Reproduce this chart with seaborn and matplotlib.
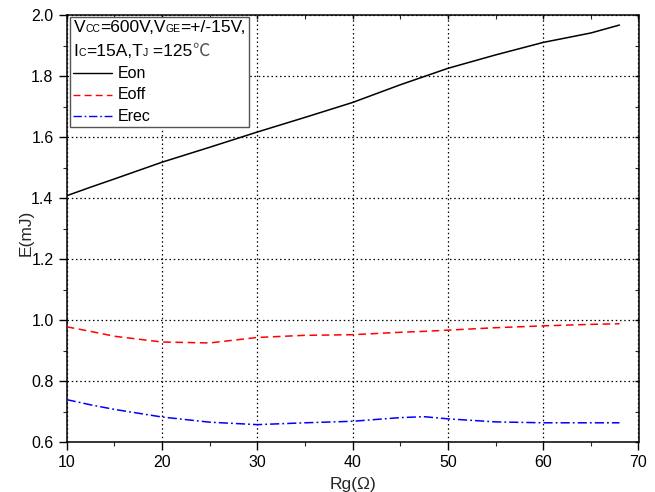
import matplotlib
matplotlib.use("Agg")
import matplotlib.pyplot as plt
from matplotlib.ticker import MultipleLocator
from matplotlib.offsetbox import TextArea, HPacker, VPacker, DrawingArea, AnchoredOffsetbox
from matplotlib.lines import Line2D
import seaborn as sns
import pandas as pd

# Switching energy vs. gate resistance
rg = [10, 12.5, 15, 20, 25, 30, 35, 40, 45, 47.5, 50, 55, 60, 65, 68]
e_on = [1.408, 1.436, 1.463, 1.518, 1.567, 1.617, 1.665, 1.714, 1.772, 1.799,
        1.826, 1.870, 1.911, 1.942, 1.968]
e_off = [0.978, 0.963, 0.947, 0.928, 0.925, 0.943, 0.950, 0.952, 0.960, 0.963,
         0.967, 0.975, 0.981, 0.986, 0.988]
e_rec = [0.739, 0.722, 0.707, 0.682, 0.665, 0.657, 0.663, 0.668, 0.680, 0.683,
         0.676, 0.666, 0.663, 0.663, 0.663]
series_names = ["Eon", "Eoff", "Erec"]

x_ticks = [10, 20, 30, 40, 50, 60, 70]
y_ticks = [0.6, 0.8, 1.0, 1.2, 1.4, 1.6, 1.8, 2.0]

df = pd.concat([
    pd.DataFrame({"Rg": rg, "E": vals, "curve": name})
    for name, vals in zip(series_names, [e_on, e_off, e_rec])
], ignore_index=True)

sns.set_style("ticks")
plt.rcParams["font.family"] = ["Liberation Sans", "Noto Sans CJK SC", "DejaVu Sans"]

fig = plt.figure(figsize=(6.55, 4.92), dpi=100)
ax = fig.add_axes([66.7 / 655, 1 - 442 / 492, (638.5 - 66.7) / 655, (442 - 15.3) / 492])

palette = {"Eon": "black", "Eoff": "#ff0000", "Erec": "#0000ff"}
dashes = {"Eon": "", "Eoff": (5, 3), "Erec": (6, 2, 1.2, 2)}
sns.lineplot(data=df, x="Rg", y="E", hue="curve", style="curve",
             palette=palette, dashes=dashes, linewidth=1.1, ax=ax, legend=False,
             zorder=3)

ax.set_xlim(10, 70)
ax.set_ylim(0.6, 2.0)
ax.set_xticks(x_ticks)
ax.set_yticks(y_ticks)
ax.set_yticklabels([f"{v:.1f}" for v in y_ticks])
ax.xaxis.set_minor_locator(MultipleLocator(5))
ax.yaxis.set_minor_locator(MultipleLocator(0.1))

ax.grid(True, which="major", linestyle=(0, (1.2, 2.2)), color="black", linewidth=0.9)
ax.set_axisbelow(True)

for sp in ax.spines.values():
    sp.set_visible(True)
    sp.set_color("black")
    sp.set_linewidth(1.1)

ax.tick_params(axis="both", which="major", direction="out", length=6, width=1,
               labelsize=11.5, pad=3.5, colors="black")
ax.tick_params(axis="both", which="minor", direction="out", length=3, width=0.8)
ax.tick_params(top=True, right=True, which="both")
for t in ax.xaxis.get_major_ticks() + ax.xaxis.get_minor_ticks():
    t.tick2line.set_marker(3)
    t.tick2line.set_markersize(3)
for t in ax.yaxis.get_major_ticks() + ax.yaxis.get_minor_ticks():
    t.tick2line.set_marker(0)
    t.tick2line.set_markersize(3)

ax.set_xlabel("Rg(Ω)", fontsize=12.5)
ax.set_ylabel("E(mJ)", fontsize=12.5)
ax.xaxis.set_label_coords(0.5, -0.081)
ax.yaxis.set_label_coords(-0.058, 0.49)

# Legend box: test conditions on two lines, then one row per curve
BIG, SUB, ENTRY = 12.5, 7.5, 11.5


def txt(s, size, **kw):
    props = dict(fontsize=size, color="black")
    props.update(kw)
    return TextArea(s, textprops=props)


row1 = HPacker(children=[txt("V", BIG), txt("CC", SUB), txt("=600V,V", BIG),
                         txt("GE", SUB), txt("=+/-15V,", BIG)],
               align="baseline", pad=0, sep=0)
row2 = HPacker(children=[txt("I", BIG), txt("C", SUB), txt("=15A,T", BIG),
                         txt("J", SUB), txt(" =125", BIG),
                         txt("℃", BIG, family=["Noto Sans CJK SC"], color="#555555")],
               align="baseline", pad=0, sep=0)

rows = [row1, row2]
for name in series_names:
    da = DrawingArea(27.5, 8, 0, 0)
    ls = "-" if dashes[name] == "" else (0, dashes[name])
    da.add_artist(Line2D([0, 27.5], [4, 4], color=palette[name], linestyle=ls,
                         linewidth=1.0))
    rows.append(HPacker(children=[da, txt(name, ENTRY)], align="center", pad=0, sep=4.5))

box = VPacker(children=rows, align="left", pad=0, sep=4.6)
anchored = AnchoredOffsetbox(loc="upper left", child=box, pad=0.25, borderpad=0,
                             frameon=True, bbox_to_anchor=(0.0058, 0.9967),
                             bbox_transform=ax.transAxes)
anchored.patch.set_edgecolor("#555555")
anchored.patch.set_linewidth(1.0)
anchored.patch.set_facecolor("white")
anchored.set_zorder(5)
ax.add_artist(anchored)

fig.savefig("out.png", dpi=100)
